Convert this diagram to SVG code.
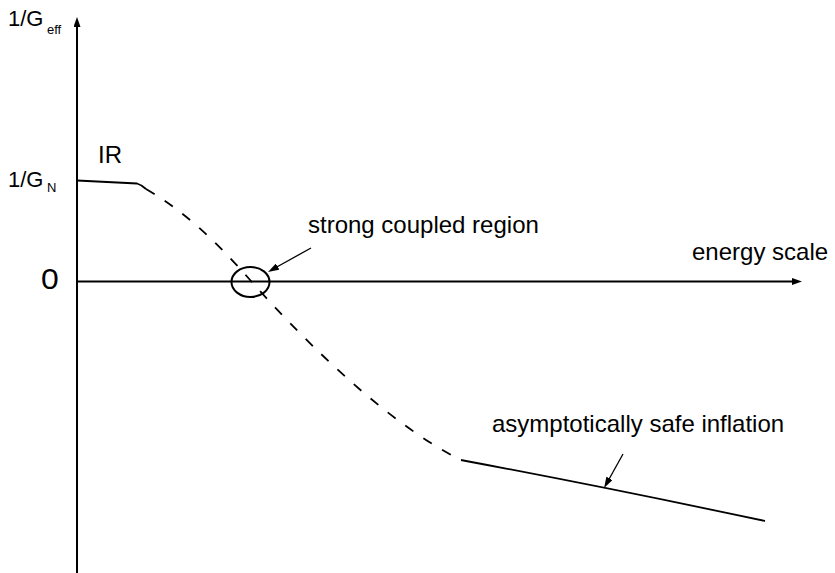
<svg xmlns="http://www.w3.org/2000/svg" width="835" height="573" viewBox="0 0 835 573">
<style>
text{font-family:"Liberation Sans",Arial,sans-serif;fill:#000}
.lbl{font-size:24px}
.ax{stroke:#000;stroke-width:2;fill:none}
.crv{stroke:#000;stroke-width:1.8;fill:none}
.dash{stroke-dasharray:10 12}
.ptr{stroke:#000;stroke-width:1.3;fill:none}
</style>
<defs>
<marker id="axhead" viewBox="0 0 10 7" refX="2" refY="3.5" markerWidth="10" markerHeight="7" markerUnits="userSpaceOnUse" orient="auto">
<path d="M0,0 L10,3.5 L0,7 z" fill="#000"/>
</marker>
<marker id="ptrhead" viewBox="0 0 11 7" refX="3" refY="3.5" markerWidth="11" markerHeight="7" markerUnits="userSpaceOnUse" orient="auto">
<path d="M0,0 L11,3.5 L0,7 z" fill="#000"/>
</marker>
</defs>
<rect width="835" height="573" fill="#fff"/>
<g id="connectors">
<line id="y-axis" class="ax" x1="77" y1="573" x2="77" y2="25" marker-end="url(#axhead)"/>
<line id="x-axis" class="ax" x1="77" y1="281.5" x2="794" y2="281.5" marker-end="url(#axhead)"/>
<path id="ir-curve" class="crv" d="M77,180.5 L137,183.5 Q142,185 146,189"/>
<path id="dashed-curve" class="crv dash" d="M146,189 C185,212 215,240 251,281 C290,325 380,420 461,460"/>
<path id="uv-curve" class="crv" d="M461,460 L466,461 Q610,488 765,521"/>
<line id="ptr-strong" class="ptr" x1="311" y1="248" x2="275" y2="268" marker-end="url(#ptrhead)"/>
<line id="ptr-safe" class="ptr" x1="623" y1="454" x2="608" y2="481" marker-end="url(#ptrhead)"/>
</g>
<g id="strong-region">
<ellipse cx="250.5" cy="282" rx="19" ry="15" class="ax"/>
</g>
<g id="label-geff">
<text x="8" y="26" font-size="22">1/G</text>
<text x="47" y="34" font-size="13">eff</text>
</g>
<g id="label-gn">
<text x="8" y="187" font-size="22">1/G</text>
<text x="47" y="192" font-size="13">N</text>
</g>
<g id="label-zero">
<text transform="translate(41,289) scale(1.1,1)" font-size="29">0</text>
</g>
<g id="label-ir"><text class="lbl" x="98" y="163">IR</text></g>
<g id="label-strong"><text class="lbl" x="308" y="233" font-size="25">strong coupled region</text></g>
<g id="label-energy"><text class="lbl" x="692" y="260">energy scale</text></g>
<g id="label-safe"><text class="lbl" x="492" y="432">asymptotically safe inflation</text></g>
</svg>
